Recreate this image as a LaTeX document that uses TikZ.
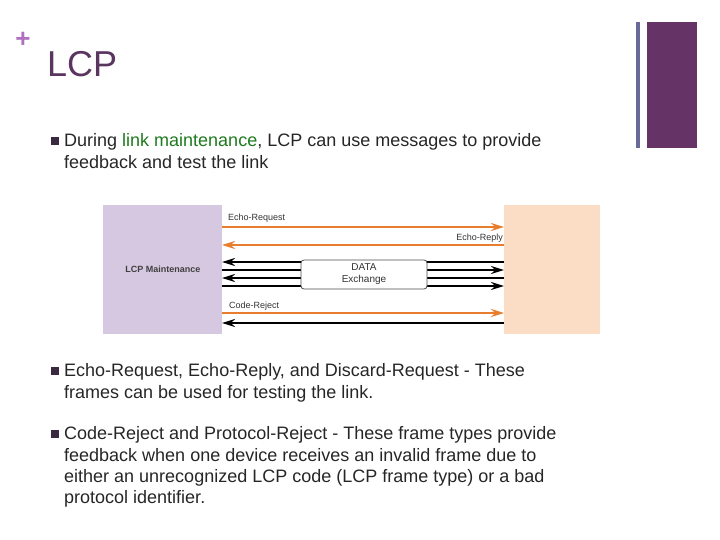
\documentclass[tikz,border=0pt]{standalone}
\usepackage{fontspec}
\setmainfont{Liberation Sans}
\usetikzlibrary{arrows.meta}
\definecolor{ttl}{HTML}{5A3560}
\definecolor{plus}{HTML}{B070C0}
\definecolor{barA}{HTML}{6A6A9A}
\definecolor{barB}{HTML}{663366}
\definecolor{lav}{HTML}{D6C8E0}
\definecolor{pch}{HTML}{FBDCC4}
\definecolor{org}{HTML}{E87D2E}
\definecolor{grn}{HTML}{1E7A1E}
\definecolor{bul}{HTML}{3A2A40}
\tikzset{
 body/.style={anchor=north west,align=left,font=\fontsize{18}{21.3}\selectfont,text=black!85,inner sep=0pt},
 lbl/.style={font=\fontsize{9}{10}\selectfont,inner sep=0pt,text=black!80},
 oarr/.style={org,line width=2.5pt,-{Stealth[length=13pt,width=8pt]}},
 barr/.style={black,line width=2.5pt,-{Stealth[length=13pt,width=8pt]}},
 bulsq/.style={fill=bul,minimum size=8pt,inner sep=0pt},
}
\begin{document}
\begin{tikzpicture}[x=1pt,y=-1pt]
\useasboundingbox (0,0) rectangle (720,540);
\node[text=plus,font=\fontsize{26}{26}\selectfont\bfseries] (plus) at (23,40) {+};
\node[anchor=base west,text=ttl,font=\fontsize{36}{36}\selectfont,inner sep=0pt] (title) at (47,77) {LCP};
\fill[barA] (636,22) rectangle (640,148);
\fill[barB] (647,22) rectangle (697,148);
% bullets
\node[bulsq] (b1) at (55,141) {};
\node[body] (t1) at (64,133.5) {During \textcolor{grn}{link maintenance}, LCP can use messages to provide\\feedback and test the link};
\node[bulsq] (b2) at (55,371) {};
\node[body] (t2) at (64,363.5) {Echo-Request, Echo-Reply, and Discard-Request - These\\frames can be used for testing the link.};
\node[bulsq] (b3) at (55,434) {};
\node[body] (t3) at (64,426.5) {Code-Reject and Protocol-Reject - These frame types provide\\feedback when one device receives an invalid frame due to\\either an unrecognized LCP code (LCP frame type) or a bad\\protocol identifier.};
% diagram
\fill[lav] (103,205) rectangle (222,334);
\fill[pch] (504,205) rectangle (600,334);
\node[font=\fontsize{9}{10}\selectfont\bfseries,text=black!75] (lm) at (163,269) {LCP Maintenance};
\coordinate (L1) at (222,227); \coordinate (R1) at (504,227);
\coordinate (L2) at (222,245); \coordinate (R2) at (504,245);
\coordinate (L3) at (222,262); \coordinate (R3) at (504,262);
\coordinate (L4) at (222,270); \coordinate (R4) at (504,270);
\coordinate (L5) at (222,278); \coordinate (R5) at (504,278);
\coordinate (L6) at (222,286); \coordinate (R6) at (504,286);
\coordinate (L7) at (222,313); \coordinate (R7) at (504,313);
\coordinate (L8) at (222,323); \coordinate (R8) at (504,323);
\draw[oarr] (L1) -- (R1);
\draw[oarr] (R2) -- (L2);
\draw[barr] (R3) -- (L3);
\draw[barr] (L4) -- (R4);
\draw[barr] (R5) -- (L5);
\draw[barr] (L6) -- (R6);
\draw[oarr] (L7) -- (R7);
\draw[barr] (R8) -- (L8);
\node[draw=black!70,line width=0.8pt,fill=white,rounded corners=3pt,minimum width=126pt,minimum height=29pt,align=center,font=\fontsize{10}{12}\selectfont,text=black!80] (data) at (364,274.5) {DATA\\Exchange};
\node[lbl,anchor=west] (er) at (228,218) {Echo-Request};
\node[lbl,anchor=east] (ep) at (503,238) {Echo-Reply};
\node[lbl,anchor=west] (cr) at (229,306) {Code-Reject};
\end{tikzpicture}
\end{document}
